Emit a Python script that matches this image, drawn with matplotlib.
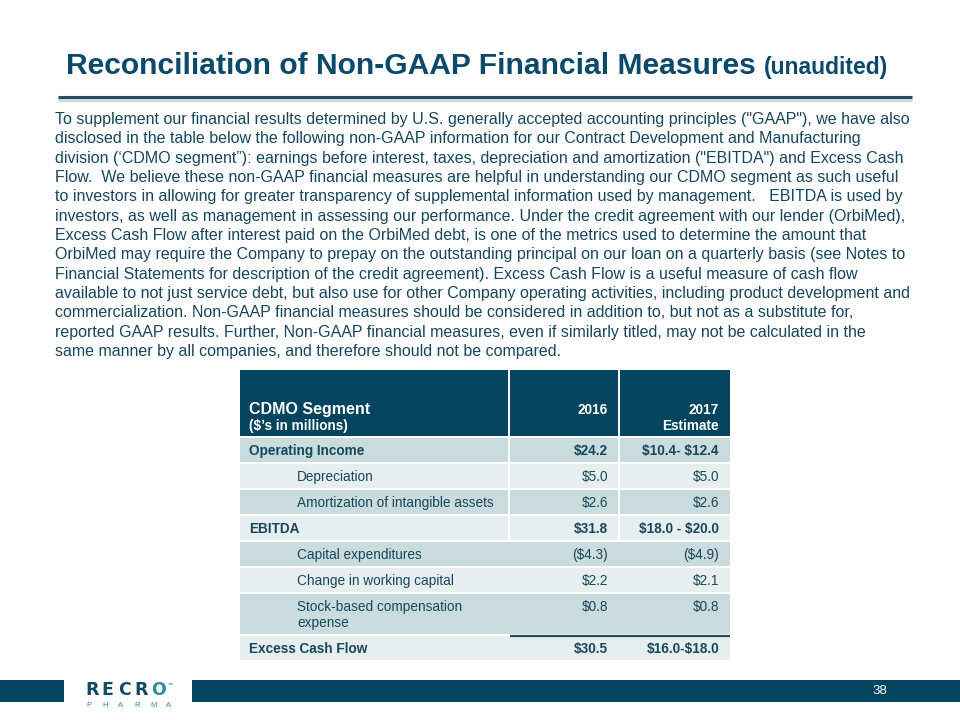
import matplotlib
matplotlib.use("Agg")
import matplotlib.pyplot as plt
from matplotlib.patches import Rectangle

plt.rcParams['font.family'] = ['Liberation Sans', 'DejaVu Sans']
plt.rcParams['text.parse_math'] = False

NAVY = '#03455f'
TITLE_C = '#0c4a6b'
TEXT_C = '#17475c'
DARK_ROW = '#cadcde'
LIGHT_ROW = '#e6eeee'
TEAL = '#2b8e9c'

title_main = "Reconciliation of Non-GAAP Financial Measures"
title_sub = "(unaudited)"

body_lines = [
    'To supplement our financial results determined by U.S. generally accepted accounting principles ("GAAP"), we have also',
    'disclosed in the table below the following non-GAAP information for our Contract Development and Manufacturing',
    'division (\u2018CDMO segment\u201d): earnings before interest, taxes, depreciation and amortization ("EBITDA") and Excess Cash',
    'Flow.  We believe these non-GAAP financial measures are helpful in understanding our CDMO segment as such useful',
    'to investors in allowing for greater transparency of supplemental information used by management.   EBITDA is used by',
    'investors, as well as management in assessing our performance. Under the credit agreement with our lender (OrbiMed),',
    'Excess Cash Flow after interest paid on the OrbiMed debt, is one of the metrics used to determine the amount that',
    'OrbiMed may require the Company to prepay on the outstanding principal on our loan on a quarterly basis (see Notes to',
    'Financial Statements for description of the credit agreement). Excess Cash Flow is a useful measure of cash flow',
    'available to not just service debt, but also use for other Company operating activities, including product development and',
    'commercialization. Non-GAAP financial measures should be considered in addition to, but not as a substitute for,',
    'reported GAAP results. Further, Non-GAAP financial measures, even if similarly titled, may not be calculated in the',
    'same manner by all companies, and therefore should not be compared.',
]

header_label = ["CDMO Segment", "($\u2019s in millions)"]
col_2016 = "2016"
col_2017 = ["2017", "Estimate"]

row_labels = ["Operating Income", "Depreciation", "Amortization of intangible assets",
              "EBITDA", "Capital expenditures", "Change in working capital",
              "Stock-based compensation\nexpense", "Excess Cash Flow"]
row_bold = [True, False, False, True, False, False, False, True]
vals_2016 = ["$24.2", "$5.0", "$2.6", "$31.8", "($4.3)", "$2.2", "$0.8", "$30.5"]
vals_2017 = ["$10.4- $12.4", "$5.0", "$2.6", "$18.0 - $20.0", "($4.9)", "$2.1", "$0.8", "$16.0-$18.0"]

page_no = "38"
logo_word = "RECRO"
logo_sub = "PHARMA"

fig = plt.figure(figsize=(9.6, 7.2), dpi=100)
ax = fig.add_axes([0, 0, 1, 1])
ax.set_xlim(0, 960)
ax.set_ylim(720, 0)
ax.axis('off')

# title, subtitle placed right after the measured main title
t = ax.text(66, 74, title_main, fontsize=21.6, fontweight='bold', color=TITLE_C, va='baseline')
fig.canvas.draw()
x_end = ax.transData.inverted().transform((t.get_window_extent().x1, 0))[0]
ax.text(x_end + 8, 74, title_sub, fontsize=16.5, fontweight='bold', color=TITLE_C, va='baseline')

# rule under title
ax.plot([58, 912], [99.5, 99.5], color='#d8d8d8', lw=2.5, solid_capstyle='butt')
ax.plot([58, 912], [97, 97], color='#1f4e66', lw=2.2, solid_capstyle='butt')

# body paragraph
for i, line in enumerate(body_lines):
    ax.text(55, 124 + i * 19.33, line, fontsize=11.5, color=TEXT_C, va='baseline')

# table
x0, x1, x2, x3 = 240, 510, 620, 730
gap = 2
ax.add_patch(Rectangle((x0, 370), x1 - x0 - gap, 66, color=NAVY, lw=0))
ax.add_patch(Rectangle((x1, 370), x2 - x1 - gap, 66, color=NAVY, lw=0))
ax.add_patch(Rectangle((x2, 370), x3 - x2, 66, color=NAVY, lw=0))
ax.text(249, 414, header_label[0], fontsize=11.5, fontweight='bold', color='white', va='baseline')
ax.text(249, 430, header_label[1], fontsize=9.8, fontweight='bold', color='white', va='baseline')
ax.text(608, 414, col_2016, fontsize=9.8, fontweight='bold', color='white', va='baseline', ha='right')
ax.text(719, 414, col_2017[0], fontsize=9.8, fontweight='bold', color='white', va='baseline', ha='right')
ax.text(719, 430, col_2017[1], fontsize=9.8, fontweight='bold', color='white', va='baseline', ha='right')

y = 438
base_h = 24
for i, lab in enumerate(row_labels):
    parts = lab.split("\n")
    h = base_h + (len(parts) - 1) * 16
    fc = DARK_ROW if i % 2 == 0 else LIGHT_ROW
    if i <= 3:
        ax.add_patch(Rectangle((x0, y), x1 - x0 - gap, h, color=fc, lw=0))
        ax.add_patch(Rectangle((x1, y), x2 - x1 - gap, h, color=fc, lw=0))
        ax.add_patch(Rectangle((x2, y), x3 - x2, h, color=fc, lw=0))
    else:
        ax.add_patch(Rectangle((x0, y), x3 - x0, h, color=fc, lw=0))
    w = 'bold' if row_bold[i] else 'normal'
    lx = 249 if row_bold[i] else 297
    yb = y + 17
    for k, part in enumerate(parts):
        ax.text(lx, yb + k * 16, part, fontsize=9.8, fontweight=w, color=TEXT_C, va='baseline')
    ax.text(608, yb, vals_2016[i], fontsize=9.8, fontweight=w, color=TEXT_C, va='baseline', ha='right')
    ax.text(719, yb, vals_2017[i], fontsize=9.8, fontweight=w, color=TEXT_C, va='baseline', ha='right')
    if i == len(row_labels) - 1:
        ax.plot([x1, x3], [y - 0.5, y - 0.5], color='#1f5068', lw=1.6, solid_capstyle='butt')
    y += h + gap

# footer bar
ax.add_patch(Rectangle((0, 680), 64, 22, color=NAVY, lw=0))
ax.add_patch(Rectangle((192, 680), 768, 22, color=NAVY, lw=0))
ax.text(872, 691, page_no, fontsize=9.5, color='white', va='center', ha='left')

# logo
for k, ch in enumerate(logo_word):
    c = TEAL if k == len(logo_word) - 1 else '#0d4a66'
    ax.text(85 + k * 16.5, 695, ch, fontsize=12.5, fontweight='heavy', color=c, va='baseline',
            family='DejaVu Sans')
ax.text(168, 685, "\u2122", fontsize=3.5, color='#0d4a66', va='baseline')
for k, ch in enumerate(logo_sub):
    ax.text(86 + k * 16, 707, ch, fontsize=5.5, color=TEAL, va='baseline')

fig.savefig("out.png", dpi=100)
